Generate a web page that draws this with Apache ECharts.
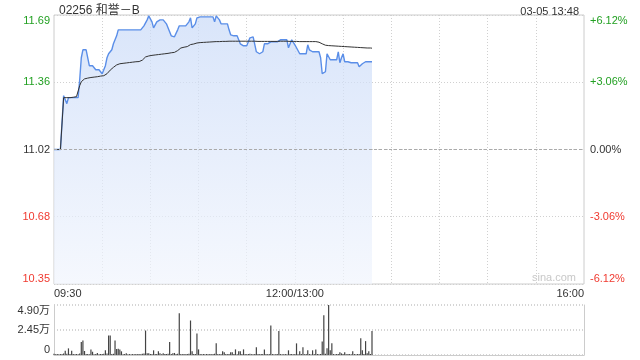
<!DOCTYPE html>
<html>
<head>
<meta charset="utf-8">
<script src="https://cdn.jsdelivr.net/npm/echarts@6/dist/echarts.min.js"></script>
<style>
html,body{margin:0;padding:0;background:#fff;}
#chart{width:640px;height:360px;}
</style>
</head>
<body>
<div id="chart"></div>
<script>
// ---- data ----
const titleText = '02256 和誉－B';
const timeText = '03-05 13:48';
const basePrice = 11.02;
const priceMin = 10.3456;
const priceMax = 11.6944;
const priceStep = 0.3372;
const volMax = 49000;
const volStep = 24500;
const xLabelTexts = ['09:30', '12:00/13:00', '16:00'];

const price = [
  11.02,11.02,11.02,11.02,11.02,11.02,11.29,11.29,11.25,11.28,
  11.28,11.28,11.28,11.28,11.28,11.28,11.37,11.48,11.52,11.52,
  11.52,11.52,11.44,11.44,11.44,11.44,11.42,11.42,11.42,11.42,
  11.40,11.39,11.44,11.48,11.50,11.51,11.52,11.55,11.56,11.59,
  11.62,11.62,11.62,11.62,11.62,11.62,11.62,11.62,11.62,11.62,
  11.62,11.62,11.62,11.62,11.62,11.61,11.64,11.65,11.67,11.69,
  11.69,11.66,11.63,11.63,11.66,11.67,11.67,11.67,11.67,11.67,
  11.65,11.64,11.61,11.59,11.585,11.585,11.585,11.62,11.64,11.64,
  11.64,11.64,11.64,11.64,11.66,11.68,11.63,11.63,11.65,11.68,
  11.685,11.685,11.685,11.685,11.685,11.685,11.685,11.685,11.685,11.685,
  11.66,11.69,11.69,11.67,11.65,11.65,11.65,11.65,11.65,11.62,
  11.595,11.59,11.59,11.59,11.59,11.58,11.55,11.54,11.54,11.54,
  11.54,11.54,11.58,11.585,11.585,11.585,11.51,11.50,11.50,11.50,
  11.51,11.55,11.55,11.55,11.555,11.56,11.56,11.56,11.56,11.56,
  11.57,11.57,11.57,11.57,11.57,11.57,11.53,11.52,11.57,11.56,
  11.545,11.53,11.52,11.50,11.50,11.50,11.50,11.50,11.545,11.52,
  11.51,11.51,11.51,11.51,11.51,11.51,11.48,11.40,11.395,11.41,
  11.50,11.49,11.47,11.47,11.47,11.47,11.47,11.51,11.455,11.48,
  11.50,11.46,11.46,11.46,11.46,11.455,11.455,11.455,11.455,11.455,
  11.435,11.435,11.45,11.46,11.46,11.46,11.46,11.46,11.46
];

const avgPrice = [
  11.02,11.02,11.02,11.02,11.02,11.02,11.28,11.28,11.28,11.28,
  11.28,11.28,11.282,11.284,11.285,11.286,11.34,11.36,11.37,11.374,
  11.376,11.378,11.38,11.381,11.382,11.383,11.384,11.385,11.386,11.388,
  11.389,11.39,11.394,11.40,11.41,11.418,11.424,11.432,11.44,11.444,
  11.448,11.45,11.451,11.452,11.453,11.454,11.455,11.456,11.457,11.458,
  11.459,11.46,11.46,11.461,11.462,11.468,11.476,11.484,11.487,11.489,
  11.491,11.492,11.493,11.494,11.495,11.496,11.497,11.498,11.499,11.50,
  11.501,11.502,11.504,11.505,11.506,11.507,11.509,11.516,11.526,11.529,
  11.531,11.533,11.535,11.536,11.538,11.546,11.548,11.549,11.551,11.554,
  11.555,11.556,11.557,11.557,11.558,11.558,11.559,11.559,11.56,11.56,
  11.56,11.561,11.561,11.561,11.562,11.562,11.562,11.562,11.563,11.563,
  11.563,11.563,11.563,11.563,11.563,11.563,11.563,11.563,11.563,11.563,
  11.563,11.563,11.563,11.563,11.563,11.563,11.562,11.562,11.562,11.562,
  11.562,11.562,11.562,11.562,11.562,11.562,11.562,11.562,11.562,11.562,
  11.563,11.563,11.563,11.563,11.563,11.563,11.563,11.562,11.562,11.562,
  11.562,11.562,11.562,11.561,11.561,11.561,11.561,11.561,11.561,11.561,
  11.561,11.561,11.561,11.561,11.56,11.558,11.555,11.55,11.546,11.543,
  11.542,11.541,11.54,11.54,11.539,11.539,11.538,11.538,11.538,11.537,
  11.537,11.536,11.536,11.535,11.535,11.534,11.534,11.533,11.533,11.532,
  11.532,11.531,11.531,11.530,11.530,11.529,11.529,11.529,11.528
];

const volume = [
  1200,800,1000,700,900,1100,1500,4200,1200,6500,
  1000,4200,900,700,1000,800,1500,12700,14300,3900,
  900,1000,800,5500,3200,700,900,2000,800,1000,
  900,1200,4600,1500,19200,19200,1000,1200,14300,5800,
  6100,5500,3600,800,1000,1600,700,900,800,1000,
  700,900,800,1000,800,1200,1500,24000,1600,1600,
  900,1000,4600,900,1000,3600,1600,800,1600,900,
  1000,1200,12700,900,1600,2000,900,1200,40900,1000,
  800,900,700,1000,1200,33800,3600,900,1000,21100,
  5500,1000,800,900,700,1000,800,900,700,1000,
  1200,11400,900,800,1000,3600,2600,900,800,1000,
  2600,2600,900,5500,800,3600,3600,900,5500,1000,
  800,900,1200,800,700,900,7500,1000,800,900,
  1000,5500,900,800,1000,28900,900,800,700,1000,
  23400,900,800,700,1000,800,4600,900,1000,800,
  900,11400,800,3600,900,7500,800,900,4600,1000,
  800,4600,900,5500,1000,800,900,13300,39000,1200,
  6500,49000,4600,11400,900,800,1000,900,2600,1600,
  900,2600,800,1000,900,800,3600,900,800,1000,
  900,16300,4600,900,13600,1600,3600,900,23400
];

// time categories: 09:30-12:00 and 13:00-16:00, one per minute
function pad(n){ return (n < 10 ? '0' : '') + n; }
const times = [];
for (let i = 0; i <= 330; i++) {
  let t;
  if (i < 150) t = 9 * 60 + 30 + i;
  else if (i === 150) { times.push('12:00/13:00'); continue; }
  else t = 13 * 60 + (i - 150);
  times.push(pad(Math.floor(t / 60)) + ':' + pad(t % 60));
}

const GREEN = '#22a022';
const RED = '#f03a30';
const DARK = '#333';
const FONT = '"Liberation Sans", Arial, "Noto Sans CJK SC", sans-serif';

function priceColor(v) {
  v = parseFloat(v);
  if (Math.abs(v - basePrice) < 0.001) return DARK;
  return v > basePrice ? GREEN : RED;
}

const chart = echarts.init(document.getElementById('chart'), null, {renderer: 'canvas'});
chart.setOption({
  animation: false,
  backgroundColor: '#fff',
  textStyle: {fontFamily: FONT},
  title: [
    {text: titleText, left: 54, top: 0, textStyle: {fontSize: 12, fontWeight: 'normal', color: DARK, fontFamily: FONT}},
    {text: timeText, right: 56, top: 1, textStyle: {fontSize: 11, fontWeight: 'normal', color: DARK, fontFamily: FONT}}
  ],
  grid: [
    {left: 54, right: 56, top: 15, height: 269, show: true, borderColor: '#ccc', borderWidth: 1, containLabel: false},
    {left: 54, right: 56, top: 305, height: 50, show: false, containLabel: false}
  ],
  xAxis: [
    {
      type: 'category', gridIndex: 0, data: times, boundaryGap: false,
      axisLine: {show: false}, axisTick: {show: false},
      axisLabel: {
        interval: function (i) { return i === 0 || i === 150 || i === 330; },
        formatter: function (v, i) {
          if (i === 0) return xLabelTexts[0];
          if (i === 150) return xLabelTexts[1];
          if (i === 330) return xLabelTexts[2];
          return '';
        },
        color: DARK, fontSize: 11, margin: 4,
        alignMinLabel: 'left', alignMaxLabel: 'right',
        showMinLabel: true, showMaxLabel: true
      },
      splitLine: {
        show: true,
        interval: function (i) { return i % 30 === 0 && i !== 0 && i !== 330; },
        lineStyle: {color: '#d0d0d0', type: [1, 2], width: 1}
      }
    },
    {
      type: 'category', gridIndex: 1, data: times, boundaryGap: false,
      axisLine: {show: true, lineStyle: {color: '#ccc'}}, axisTick: {show: false},
      axisLabel: {show: false}, splitLine: {show: false}
    }
  ],
  yAxis: [
    {
      type: 'value', gridIndex: 0, position: 'left',
      min: priceMin, max: priceMax, interval: priceStep,
      axisLine: {show: false}, axisTick: {show: false},
      axisLabel: {
        formatter: function (v) { return v.toFixed(2); },
        color: priceColor, fontSize: 11, margin: 4,
        verticalAlignMaxLabel: 'top', verticalAlignMinLabel: 'bottom'
      },
      splitLine: {show: true, lineStyle: {color: '#d0d0d0', type: [1, 2]}}
    },
    {
      type: 'value', gridIndex: 0, position: 'right',
      min: priceMin, max: priceMax, interval: priceStep,
      axisLine: {show: false}, axisTick: {show: false},
      axisLabel: {
        formatter: function (v) {
          const pct = (v / basePrice - 1) * 100;
          if (Math.abs(pct) < 0.005) return '0.00%';
          return (pct > 0 ? '+' : '') + pct.toFixed(2) + '%';
        },
        color: priceColor, fontSize: 11, margin: 6,
        verticalAlignMaxLabel: 'top', verticalAlignMinLabel: 'bottom'
      },
      splitLine: {show: false}
    },
    {
      type: 'value', gridIndex: 1, position: 'left',
      min: 0, max: volMax, interval: volStep,
      axisLine: {show: true, lineStyle: {color: '#ccc'}}, axisTick: {show: false},
      axisLabel: {
        formatter: function (v) { return v === 0 ? '0' : (v / 10000).toFixed(2) + '万'; },
        color: DARK, fontSize: 11, margin: 4,
        verticalAlignMaxLabel: 'top', verticalAlignMinLabel: 'bottom'
      },
      splitLine: {show: true, lineStyle: {color: '#c8c8c8', type: [1, 2], width: 1.5}}
    },
    {
      type: 'value', gridIndex: 1, position: 'right',
      min: 0, max: volMax, interval: volStep,
      axisLine: {show: true, lineStyle: {color: '#ccc'}}, axisTick: {show: false},
      axisLabel: {show: false}, splitLine: {show: false}
    }
  ],
  graphic: [
    {type: 'text', left: 532, top: 272, silent: true,
     style: {text: 'sina.com', fill: '#c8c8c8', font: '11px "Liberation Sans", Arial, sans-serif'}}
  ],
  series: [
    {
      type: 'line', name: 'price', xAxisIndex: 0, yAxisIndex: 0, data: price,
      showSymbol: false, symbol: 'none',
      lineStyle: {color: '#5a8ee8', width: 1.4},
      areaStyle: {
        origin: 'start',
        color: new echarts.graphic.LinearGradient(0, 0, 0, 1, [
          {offset: 0, color: '#c9daf8'},
          {offset: 1, color: '#f1f5fd'}
        ])
      },
      markLine: {
        silent: true, symbol: 'none', label: {show: false},
        lineStyle: {color: '#aaa', type: [3, 2], width: 1},
        data: [{yAxis: basePrice}]
      },
      z: 2
    },
    {
      type: 'line', name: 'avg', xAxisIndex: 0, yAxisIndex: 0, data: avgPrice,
      showSymbol: false, symbol: 'none',
      lineStyle: {color: '#333', width: 1}, z: 3
    },
    {
      type: 'bar', name: 'vol', xAxisIndex: 1, yAxisIndex: 2, data: volume,
      barWidth: 1.2, itemStyle: {color: '#444'}
    }
  ]
});
</script>
</body>
</html>
